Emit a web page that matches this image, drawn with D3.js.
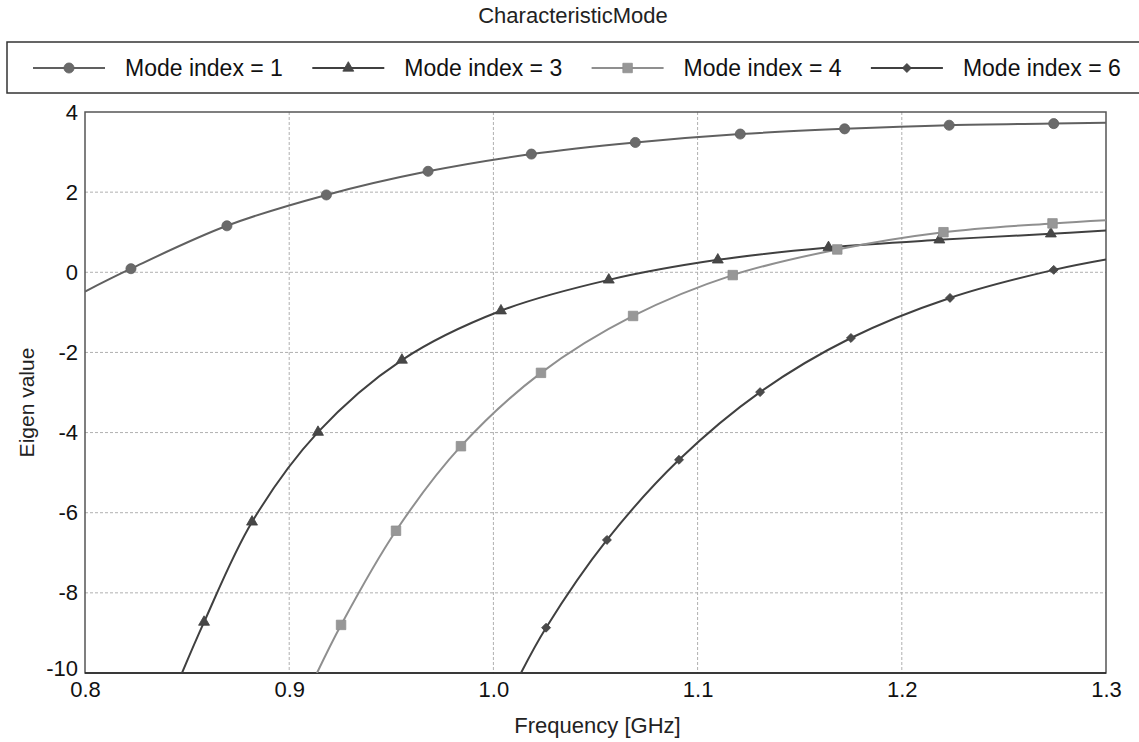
<!DOCTYPE html>
<html>
<head>
<meta charset="utf-8">
<script src="https://cdn.jsdelivr.net/npm/d3@7/dist/d3.min.js"></script>
<style>
  body { margin: 0; background: #fff; }
  svg { font-family: "Liberation Sans", Arial, sans-serif; }
  .grid line { stroke: #b0b0b0; stroke-width: 1; stroke-dasharray: 3,2; }
  .tick text { fill: #111; }
</style>
</head>
<body>
<div id="chart"></div>
<script>
// frequency [GHz] / eigen value samples
// first and last sample of each series are where the curve meets the frame (no marker)
var mode1Freq = [0.8, 0.8225, 0.8695, 0.9182, 0.968, 1.0186, 1.0695, 1.1209, 1.172, 1.2232, 1.2744, 1.3];
var mode1Eig  = [-0.48, 0.09, 1.16, 1.93, 2.52, 2.95, 3.24, 3.45, 3.58, 3.67, 3.71, 3.73];

var mode3Freq = [0.8475, 0.8583, 0.8818, 0.9141, 0.9552, 1.0037, 1.0565, 1.1099, 1.1641, 1.2184, 1.273, 1.3];
var mode3Eig  = [-10, -8.73, -6.23, -3.99, -2.19, -0.96, -0.19, 0.31, 0.62, 0.81, 0.96, 1.04];

var mode4Freq = [0.9136, 0.9254, 0.9523, 0.9841, 1.0233, 1.0684, 1.1172, 1.1684, 1.2204, 1.2738, 1.3];
var mode4Eig  = [-10, -8.80, -6.45, -4.34, -2.51, -1.09, -0.07, 0.57, 1.0, 1.22, 1.30];

var mode6Freq = [1.0135, 1.0258, 1.0556, 1.0909, 1.1306, 1.1751, 1.2236, 1.2744, 1.3];
var mode6Eig  = [-10, -8.87, -6.68, -4.68, -2.99, -1.64, -0.64, 0.06, 0.32];

var xTicks = [0.8, 0.9, 1.0, 1.1, 1.2, 1.3];
var yTicks = [-10, -8, -6, -4, -2, 0, 2, 4];

var series = [
  { name: "Mode index = 1", freq: mode1Freq, eig: mode1Eig, color: "#606060", mark: "circle", fill: "#6a6a6a" },
  { name: "Mode index = 3", freq: mode3Freq, eig: mode3Eig, color: "#404040", mark: "triangle", fill: "#474747" },
  { name: "Mode index = 4", freq: mode4Freq, eig: mode4Eig, color: "#8f8f8f", mark: "square", fill: "#979797" },
  { name: "Mode index = 6", freq: mode6Freq, eig: mode6Eig, color: "#404040", mark: "diamond", fill: "#4a4a4a" }
];

var width = 1139, height = 742;
var margin = {top: 112, right: 33, bottom: 69, left: 85};
var graphWidth = width - margin.left - margin.right;
var graphHeight = height - margin.top - margin.bottom;

var svg = d3.select("#chart")
  .append("svg")
  .attr("width", width)
  .attr("height", height);

// title
svg.append("text")
  .attr("x", 573)
  .attr("y", 23)
  .style("text-anchor", "middle")
  .style("font-size", "22px")
  .style("fill", "#222")
  .text("CharacteristicMode");

var x = d3.scaleLinear().domain([0.8, 1.3]).range([0, graphWidth]);
var y = d3.scaleLinear().domain([-10, 4]).range([graphHeight, 0]);

g = svg.append("g")
  .attr("transform", "translate(" + margin.left + "," + margin.top + ")");

g.append("clipPath").attr("id", "plotclip")
  .append("rect").attr("width", graphWidth).attr("height", graphHeight);

// grid
g.append("g").attr("class", "grid")
  .selectAll("line.v").data(xTicks.slice(1, -1)).enter()
  .append("line")
  .attr("x1", function(d) { return x(d); }).attr("x2", function(d) { return x(d); })
  .attr("y1", 0).attr("y2", graphHeight);

g.append("g").attr("class", "grid")
  .selectAll("line.h").data(yTicks.slice(1, -1)).enter()
  .append("line")
  .attr("y1", function(d) { return y(d); }).attr("y2", function(d) { return y(d); })
  .attr("x1", 0).attr("x2", graphWidth);

// axes (plain hyphen for negatives, like the original)
var xAxis = g.append("g")
  .attr("transform", "translate(0," + graphHeight + ")")
  .call(d3.axisBottom(x).tickValues(xTicks).tickSize(0).tickPadding(9)
    .tickFormat(function(d) { return d.toFixed(1); }));
xAxis.select(".domain").remove();
xAxis.selectAll("text").style("font-size", "22px").attr("dy", "0.7em");

var yAxis = g.append("g")
  .call(d3.axisLeft(y).tickValues(yTicks).tickSize(0).tickPadding(7)
    .tickFormat(function(d) { return String(d); }));
yAxis.select(".domain").remove();
yAxis.selectAll("text").style("font-size", "22px");
// the bottom label sits a little higher so it clears the 0.8 label
yAxis.selectAll(".tick").filter(function(d) { return d === -10; })
  .select("text").attr("dy", "0.1em");

// frame
g.append("rect")
  .attr("width", graphWidth).attr("height", graphHeight)
  .style("fill", "none").style("stroke", "#555").style("stroke-width", 1.5);
g.append("line")
  .attr("x1", 0).attr("x2", graphWidth)
  .attr("y1", graphHeight).attr("y2", graphHeight)
  .style("stroke", "#222").style("stroke-width", 1.5);

// axis labels
svg.append("text")
  .attr("x", margin.left + graphWidth / 2 + 2)
  .attr("y", 733)
  .style("text-anchor", "middle")
  .style("font-size", "22px")
  .style("fill", "#222")
  .text("Frequency [GHz]");

svg.append("text")
  .attr("transform", "translate(34," + (margin.top + graphHeight / 2 + 10) + ") rotate(-90)")
  .style("text-anchor", "middle")
  .style("font-size", "21px")
  .style("fill", "#222")
  .text("Eigen value");

var symbolFor = {
  circle: d3.symbol().type(d3.symbolCircle).size(80),
  triangle: d3.symbol().type(d3.symbolTriangle).size(52),
  square: d3.symbol().type(d3.symbolSquare).size(90),
  diamond: d3.symbol().type(d3.symbolSquare).size(40)
};
var markRotate = { circle: 0, triangle: 0, square: 0, diamond: 45 };

var line = d3.line()
  .x(function(d) { return x(d[0]); })
  .y(function(d) { return y(d[1]); })
  .curve(d3.curveCatmullRom.alpha(0.5));

var plot = g.append("g").attr("clip-path", "url(#plotclip)");

series.forEach(function(s) {
  var pts = s.freq.map(function(f, i) { return [f, s.eig[i]]; });
  plot.append("path")
    .datum(pts)
    .attr("d", line)
    .style("fill", "none")
    .style("stroke", s.color)
    .style("stroke-width", 2);
});

series.forEach(function(s) {
  var pts = s.freq.map(function(f, i) { return [f, s.eig[i]]; })
    .filter(function(d, i) { return i > 0 && i < s.freq.length - 1; });
  g.selectAll(".mk-" + s.mark)
    .data(pts)
    .enter()
    .append("path")
    .attr("class", "mk-" + s.mark)
    .attr("transform", function(d) {
      return "translate(" + x(d[0]) + "," + y(d[1]) + ")rotate(" + markRotate[s.mark] + ")"; })
    .attr("d", symbolFor[s.mark])
    .style("fill", s.fill)
    .style("stroke", s.color)
    .style("stroke-width", 0.8);
});

// legend
var legend = svg.append("g");
legend.append("rect")
  .attr("x", 7).attr("y", 42)
  .attr("width", 1140).attr("height", 51)
  .style("fill", "#fff").style("stroke", "#333").style("stroke-width", 1.5);

var items = legend.selectAll(".item")
  .data(series)
  .enter()
  .append("g")
  .attr("class", "item")
  .attr("transform", function(d, i) { return "translate(" + (33 + i * 279.3) + ",68)"; });

items.append("line")
  .attr("x1", 0).attr("x2", 72)
  .style("stroke", function(d) { return d.color; })
  .style("stroke-width", 2);

items.append("path")
  .attr("transform", function(d) { return "translate(36,0)rotate(" + markRotate[d.mark] + ")"; })
  .attr("d", function(d) { return symbolFor[d.mark](); })
  .style("fill", function(d) { return d.fill; })
  .style("stroke", function(d) { return d.color; })
  .style("stroke-width", 0.8);

items.append("text")
  .attr("x", 92)
  .attr("dy", "0.36em")
  .style("font-size", "23px")
  .style("fill", "#111")
  .text(function(d) { return d.name; });
</script>
</body>
</html>
